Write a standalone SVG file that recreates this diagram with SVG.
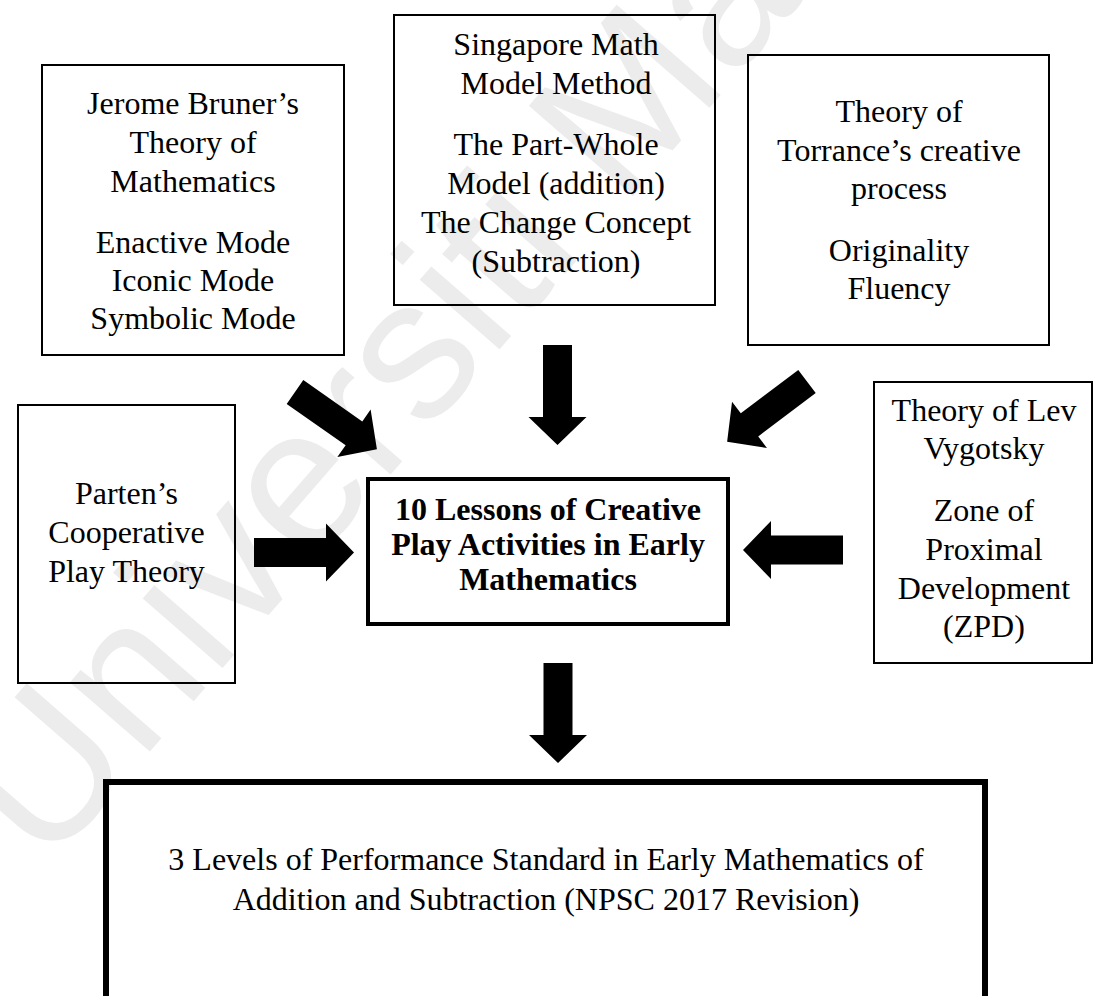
<svg xmlns="http://www.w3.org/2000/svg" xmlns:xlink="http://www.w3.org/1999/xlink" width="1094" height="996" viewBox="0 0 1094 996">
  <style>
    .box { fill: none; stroke: #000000; stroke-width: 2; }
    .box-main { fill: none; stroke: #000000; stroke-width: 4; }
    .box-result { fill: none; stroke: #000000; stroke-width: 6; }
    .label { font-family: "Liberation Serif", "Times New Roman", serif; font-size: 32px; fill: #000000; text-anchor: middle; }
    .label-bold { font-weight: bold; }
    .arrow { fill: #000000; }
    .watermark { font-family: "Liberation Sans", Arial, sans-serif; font-size: 200px; fill: #ececec; }
  </style>
  <defs>
    <!-- block arrow pointing along +x, tail at origin, tip at x=100 -->
    <path id="block-arrow" d="M0,-14.5 L72,-14.5 L72,-29 L100,0 L72,29 L72,14.5 L0,14.5 Z"/>
  </defs>

  <rect width="1094" height="996" fill="#ffffff"/>

  <!-- faint diagonal background lettering -->
  <text class="watermark" transform="translate(46,871) rotate(-49)">Universiti Malaya</text>

  <g id="node-bruner">
    <rect class="box" x="42" y="65" width="302" height="290"/>
    <text class="label" x="193" y="114">Jerome Bruner’s</text>
    <text class="label" x="193" y="153">Theory of</text>
    <text class="label" x="193" y="192">Mathematics</text>
    <text class="label" x="193" y="253">Enactive Mode</text>
    <text class="label" x="193" y="291">Iconic Mode</text>
    <text class="label" x="193" y="329">Symbolic Mode</text>
  </g>

  <g id="node-singapore">
    <rect class="box" x="394" y="15" width="321" height="290"/>
    <text class="label" x="556" y="55">Singapore Math</text>
    <text class="label" x="556" y="94">Model Method</text>
    <text class="label" x="556" y="155">The Part-Whole</text>
    <text class="label" x="556" y="194">Model (addition)</text>
    <text class="label" x="556" y="233">The Change Concept</text>
    <text class="label" x="556" y="272">(Subtraction)</text>
  </g>

  <g id="node-torrance">
    <rect class="box" x="748" y="55" width="301" height="290"/>
    <text class="label" x="899" y="122">Theory of</text>
    <text class="label" x="899" y="161">Torrance’s creative</text>
    <text class="label" x="899" y="199">process</text>
    <text class="label" x="899" y="261">Originality</text>
    <text class="label" x="899" y="299">Fluency</text>
  </g>

  <g id="node-parten">
    <rect class="box" x="18" y="405" width="217" height="278"/>
    <text class="label" x="126.5" y="504">Parten’s</text>
    <text class="label" x="126.5" y="543">Cooperative</text>
    <text class="label" x="126.5" y="582">Play Theory</text>
  </g>

  <g id="node-vygotsky">
    <rect class="box" x="874" y="382" width="218" height="281"/>
    <text class="label" x="984" y="421">Theory of Lev</text>
    <text class="label" x="984" y="459">Vygotsky</text>
    <text class="label" x="984" y="521">Zone of</text>
    <text class="label" x="984" y="560">Proximal</text>
    <text class="label" x="984" y="599">Development</text>
    <text class="label" x="984" y="637">(ZPD)</text>
  </g>

  <g id="node-lessons">
    <rect class="box-main" x="368" y="479" width="360" height="145"/>
    <text class="label label-bold" x="548" y="520">10 Lessons of Creative</text>
    <text class="label label-bold" x="548" y="555">Play Activities in Early</text>
    <text class="label label-bold" x="548" y="590">Mathematics</text>
  </g>

  <g id="node-standard">
    <rect class="box-result" x="106" y="782" width="879" height="260"/>
    <text class="label" x="546" y="870">3 Levels of Performance Standard in Early Mathematics of</text>
    <text class="label" x="546" y="910">Addition and Subtraction (NPSC 2017 Revision)</text>
  </g>

  <g id="connectors" class="arrow">
    <use xlink:href="#block-arrow" transform="translate(295,392) rotate(35)"/>
    <use xlink:href="#block-arrow" transform="translate(557.5,345) rotate(90)"/>
    <use xlink:href="#block-arrow" transform="translate(807,381.5) rotate(143)"/>
    <use xlink:href="#block-arrow" transform="translate(254,552.5)"/>
    <use xlink:href="#block-arrow" transform="translate(843,550) rotate(180)"/>
    <use xlink:href="#block-arrow" transform="translate(558,663) rotate(90)"/>
  </g>
</svg>
